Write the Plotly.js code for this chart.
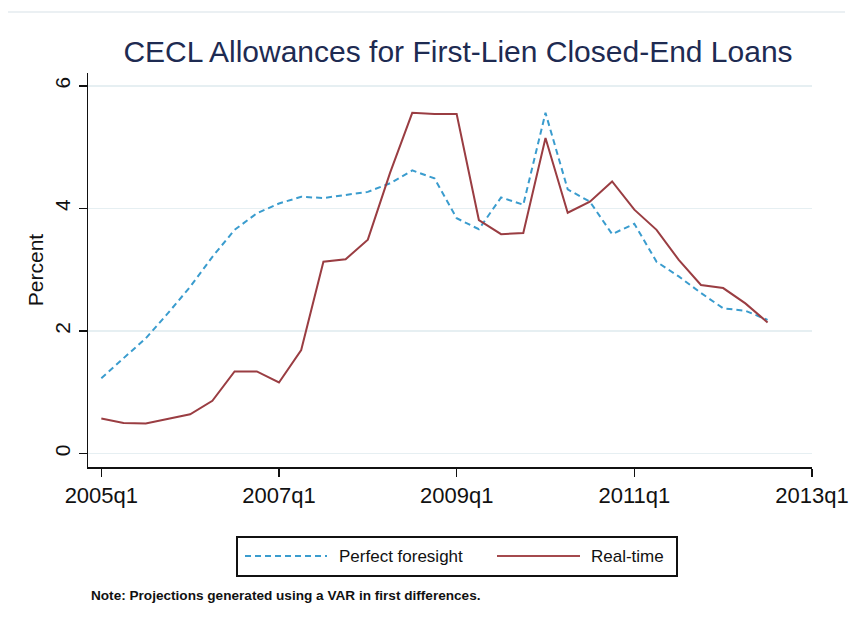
<!DOCTYPE html>
<html>
<head>
<meta charset="utf-8">
<script src="https://cdn.plot.ly/plotly-3.0.1.min.js"></script>
<style>html,body{margin:0;padding:0;background:#fff;}#chart{width:856px;height:623px;}</style>
</head>
<body>
<div id="chart"></div>
<script>
const quarters = ['2005q1','2005q2','2005q3','2005q4','2006q1','2006q2','2006q3','2006q4',
  '2007q1','2007q2','2007q3','2007q4','2008q1','2008q2','2008q3','2008q4',
  '2009q1','2009q2','2009q3','2009q4','2010q1','2010q2','2010q3','2010q4',
  '2011q1','2011q2','2011q3','2011q4','2012q1','2012q2','2012q3'];
const perfectForesight = [1.23,1.55,1.88,2.29,2.72,3.21,3.65,3.92,4.08,4.19,4.17,4.22,4.27,4.41,4.62,4.49,
  3.84,3.66,4.18,4.06,5.56,4.31,4.11,3.58,3.75,3.13,2.89,2.62,2.37,2.33,2.18];
const realTime = [0.57,0.50,0.49,0.56,0.64,0.86,1.34,1.34,1.16,1.69,3.13,3.17,3.49,4.58,5.56,5.54,
  5.54,3.81,3.58,3.60,5.15,3.93,4.11,4.44,3.98,3.65,3.16,2.75,2.70,2.45,2.14];
const tickLabels = ['2005q1','2007q1','2009q1','2011q1','2013q1'];
const tickPositions = [0, 8, 16, 24, 32];
const yTicks = [0, 2, 4, 6];

const xIdx = quarters.map((q, i) => i);
const FONT = '"Liberation Sans", Arial, sans-serif';
const BLUE = '#3a9cce';
const RED = '#9a3d42';

const traces = [
  {x: xIdx, y: perfectForesight, type: 'scatter', mode: 'lines', name: 'Perfect foresight',
   line: {color: BLUE, width: 2, dash: '6px,4px'}, text: quarters, hovertemplate: '%{text}: %{y}<extra></extra>'},
  {x: xIdx, y: realTime, type: 'scatter', mode: 'lines', name: 'Real-time',
   line: {color: RED, width: 2}, text: quarters, hovertemplate: '%{text}: %{y}<extra></extra>'}
];

const L = 88, R = 812, T = 73, B = 467;
const px = v => (v - L) / (R - L);
const py = v => (B - v) / (B - T);

const layout = {
  width: 856, height: 623,
  margin: {l: L, r: 856 - R, t: T, b: 623 - B},
  paper_bgcolor: '#ffffff', plot_bgcolor: '#ffffff',
  showlegend: false,
  font: {family: FONT, color: '#111'},
  title: {text: 'CECL Allowances for First-Lien Closed-End Loans',
    font: {family: FONT, size: 30, color: '#1e2b52'},
    x: 458/856, xref: 'container', xanchor: 'center', y: 1 - 51/623, yref: 'container', yanchor: 'middle'},
  xaxis: {range: [-0.6, 32], tickvals: tickPositions, ticktext: tickLabels,
    showgrid: false, zeroline: false, showline: true, linecolor: '#111', linewidth: 1.5,
    ticks: 'outside', ticklen: 8, tickwidth: 1.5, tickcolor: '#111',
    tickfont: {family: FONT, size: 22, color: '#111'}},
  yaxis: {range: [-0.22, 6.21], tickvals: yTicks, tickangle: -90,
    showgrid: true, gridcolor: '#e6eff2', gridwidth: 1.5, zeroline: false,
    showline: true, linecolor: '#111', linewidth: 1.5,
    ticks: 'outside', ticklen: 8, tickwidth: 1.5, tickcolor: '#111',
    tickfont: {family: FONT, size: 21, color: '#111'},
    title: {text: 'Percent', font: {family: FONT, size: 21, color: '#111'}, standoff: 1}},
  shapes: [
    {type: 'line', xref: 'paper', yref: 'paper', x0: px(8), x1: px(845), y0: py(12), y1: py(12),
     line: {color: '#e4ebef', width: 1.5}},
    {type: 'rect', xref: 'paper', yref: 'paper', x0: px(237), x1: px(677), y0: py(537), y1: py(576),
     line: {color: '#111', width: 2}, fillcolor: 'rgba(0,0,0,0)'},
    {type: 'line', xref: 'paper', yref: 'paper', x0: px(245), x1: px(327), y0: py(556), y1: py(556),
     line: {color: BLUE, width: 2, dash: '6px,4px'}},
    {type: 'line', xref: 'paper', yref: 'paper', x0: px(497), x1: px(580), y0: py(556), y1: py(556),
     line: {color: '#a44a4e', width: 2}}
  ],
  annotations: [
    {text: 'Perfect foresight', xref: 'paper', yref: 'paper', x: px(337), y: py(556),
     xanchor: 'left', yanchor: 'middle', showarrow: false, font: {family: FONT, size: 17, color: '#111'}},
    {text: 'Real-time', xref: 'paper', yref: 'paper', x: px(589), y: py(556),
     xanchor: 'left', yanchor: 'middle', showarrow: false, font: {family: FONT, size: 17, color: '#111'}},
    {text: '<b>Note: Projections generated using a VAR in first differences.</b>', xref: 'paper', yref: 'paper',
     x: px(89), y: py(595), xanchor: 'left', yanchor: 'middle', showarrow: false,
     font: {family: FONT, size: 13.6, color: '#111'}}
  ]
};

Plotly.newPlot('chart', traces, layout, {displayModeBar: false, staticPlot: true});
</script>
</body>
</html>
